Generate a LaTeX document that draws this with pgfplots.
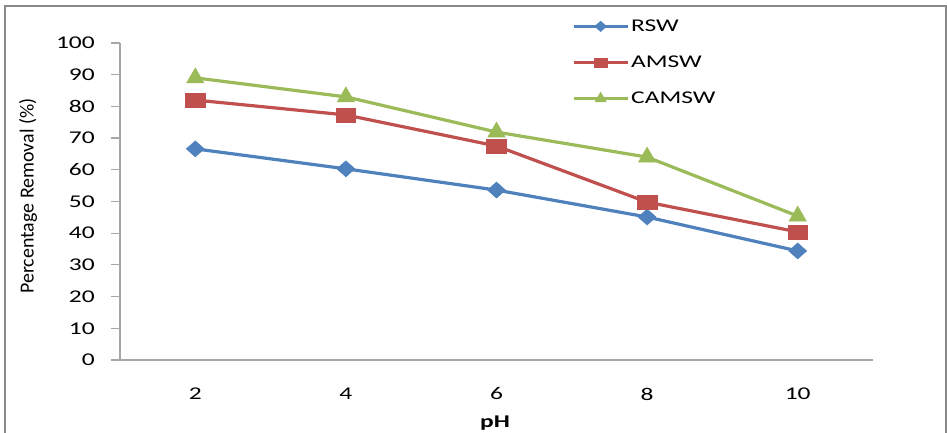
\documentclass[border=0pt]{standalone}
\usepackage{fontspec}
\setmainfont{Carlito}
\newfontfamily\widefont{Carlito}[FakeStretch=1.42]
\usepackage{pgfplots}
\pgfplotsset{compat=1.18}
\definecolor{cblue}{HTML}{4F81BD}
\definecolor{cred}{HTML}{C0504D}
\definecolor{cgreen}{HTML}{9BBB59}
\definecolor{axgray}{HTML}{A6A6A6}
\definecolor{framegray}{HTML}{898989}
\begin{document}
\begin{tikzpicture}[x=1bp,y=1bp]
\useasboundingbox (0,0) rectangle (947,433);
\draw[framegray, line width=2bp] (5,-20) -- (5,427) -- (946,427) -- (946,-20);
\begin{axis}[
  at={(120bp,73bp)}, anchor=south west,
  scale only axis, width=753bp, height=317bp,
  xmin=-0.5, xmax=4.5, ymin=0, ymax=100,
  xtick={0,1,2,3,4}, xticklabels={2,4,6,8,10},
  ytick={0,10,...,100},
  axis x line*=bottom, axis y line*=left,
  axis line style={axgray, line width=1.4bp, -},
  xtick style={draw=none},
  ytick style={axgray, line width=1.2bp},
  tick align=outside, major tick length=9bp,
  /pgf/number format/assume math mode=true,
  tick label style={font=\widefont\fontsize{18}{18}\selectfont, text=black},
  xticklabel style={anchor=center, yshift=-25bp},
  yticklabel style={anchor=east, inner sep=0pt, xshift=-16bp},
  clip=false,
  xlabel={\textbf{pH}},
  every axis x label/.style={at={(rel axis cs:0.498,0)}, yshift=-63bp, anchor=center, font=\widefont\bfseries\fontsize{18}{18}\selectfont},
  ylabel={Percentage Removal (\%)},
  every axis y label/.style={at={(rel axis cs:0,0.517)}, xshift=-92bp, rotate=90, anchor=center, font=\fontsize{20}{20}\selectfont},
  legend style={at={(rel axis cs:0.600,1.080)}, anchor=north west, draw=none, fill=none, inner sep=0pt,
    font=\widefont\fontsize{18}{18}\selectfont, row sep=19bp, nodes={inner sep=2bp}},
  legend cell align=left,
  legend image code/.code={\draw[mark repeat=2, mark phase=2, every mark/.append style={scale=0.65}] plot coordinates {(0bp,0bp) (27bp,0bp) (54bp,0bp)};},
]
\addplot[cblue, line width=3.2bp, mark=diamond*, mark size=8bp, mark options={xscale=1.5, fill=cblue, draw=cblue, line width=0.5bp}]
  coordinates {(0,66.6) (1,60.3) (2,53.6) (3,45.1) (4,34.4)};
\addlegendentry{RSW}
\addplot[cred, line width=3.2bp, mark=square*, mark size=7bp, mark options={xscale=1.4, fill=cred, draw=cred, line width=0.5bp}]
  coordinates {(0,82.0) (1,77.3) (2,67.5) (3,49.8) (4,40.4)};
\addlegendentry{AMSW}
\addplot[cgreen, line width=3.2bp, mark=triangle*, mark size=10bp, mark options={fill=cgreen, draw=cgreen, line width=0.5bp}]
  coordinates {(0,89.0) (1,83.0) (2,71.9) (3,64.0) (4,45.4)};
\addlegendentry{CAMSW}
\end{axis}
\end{tikzpicture}
\end{document}
